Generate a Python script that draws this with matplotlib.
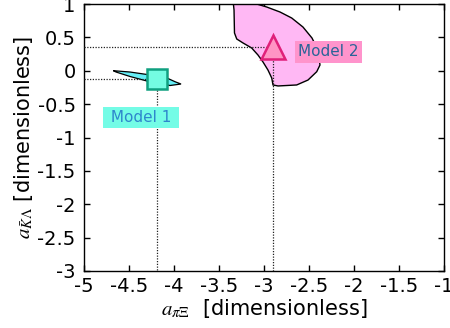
import matplotlib
matplotlib.use("Agg")
import matplotlib.pyplot as plt

plt.rcParams["mathtext.fontset"] = "stix"

# ---- data ----
xticks = [-5, -4.5, -4, -3.5, -3, -2.5, -2, -1.5, -1]
xtick_labels = ["-5", "-4.5", "-4", "-3.5", "-3", "-2.5", "-2", "-1.5", "-1"]
yticks = [1, 0.5, 0, -0.5, -1, -1.5, -2, -2.5, -3]
ytick_labels = ["1", "0.5", "0", "-0.5", "-1", "-1.5", "-2", "-2.5", "-3"]

# Model 1 allowed region (cyan wedge)
m1_region_x = [-4.674, -4.489, -4.30, -4.067, -3.989, -3.922, -4.044, -4.30, -4.489, -4.644]
m1_region_y = [0.001, -0.019, -0.056, -0.116, -0.164, -0.199, -0.221, -0.154, -0.086, -0.019]

# Model 2 allowed region (pink)
m2_region_x = [-3.348, -3.333, -3.328, -3.303, -3.233, -3.137, -3.067, -3.011, -2.956,
               -2.914, -2.900, -2.844, -2.637, -2.511, -2.414, -2.378, -2.400, -2.467,
               -2.567, -2.692, -2.822, -2.970, -3.081, -3.20]
m2_region_y = [1.10, 0.910, 0.566, 0.476, 0.416, 0.341, 0.236, 0.131, 0.011,
               -0.109, -0.213, -0.228, -0.213, -0.139, -0.014, 0.086, 0.311, 0.491,
               0.655, 0.790, 0.880, 0.955, 1.0, 1.10]

# best-fit points
m1_point = (-4.185, -0.125)
m2_point = (-2.897, 0.36)
m1_label_pos = (-4.367, -0.706)
m2_label_pos = (-2.281, 0.281)

xmin, xmax, ymin, ymax = -5, -1, -3, 1

fig = plt.figure(figsize=(4.5, 3.28), dpi=100)
ax = fig.add_axes([84 / 450, 1 - 271 / 328, 360 / 450, 267 / 328])

# regions
ax.fill(m2_region_x, m2_region_y, facecolor="#FFB8F4", edgecolor="black", lw=1.0, zorder=2)
ax.fill(m1_region_x, m1_region_y, facecolor="#66EEF6", edgecolor="black", lw=0.9, zorder=2)

# dotted guide lines
for (px, py) in (m1_point, m2_point):
    ax.plot([xmin, px], [py, py], color="#222222", lw=0.9, ls=(0, (1, 1.2)), zorder=3)
    ax.plot([px, px], [py, ymin], color="#222222", lw=0.9, ls=(0, (1, 1.2)), zorder=3)

# markers
ax.plot([m1_point[0]], [m1_point[1]], marker="s", ms=14, mfc="#74FCE2", mec="#10A080",
        mew=1.8, ls="none", zorder=5)
ax.plot([m2_point[0]], [m2_point[1]], marker="^", ms=17, mfc="#FF94C4", mec="#E0207A",
        mew=1.8, ls="none", zorder=5)

# model labels
ax.text(m1_label_pos[0], m1_label_pos[1], " Model 1 ", fontsize=11, color="#2E86CC",
        ha="center", va="center", zorder=6,
        bbox=dict(boxstyle="square,pad=0.2", fc="#74FCE6", ec="none"))
ax.text(m2_label_pos[0], m2_label_pos[1], "Model 2", fontsize=11, color="#2A6498",
        ha="center", va="center", zorder=6,
        bbox=dict(boxstyle="square,pad=0.2", fc="#FF94CC", ec="none"))

ax.set_xlim(xmin, xmax)
ax.set_ylim(ymin, ymax)
ax.set_xticks(xticks)
ax.set_xticklabels(xtick_labels)
ax.set_yticks(yticks)
ax.set_yticklabels(ytick_labels)
ax.tick_params(direction="in", top=True, right=True, length=4, width=1,
               labelsize=14, pad=4)
ax.tick_params(axis="y", pad=6)
for s in ax.spines.values():
    s.set_linewidth(1.0)

ax.set_xlabel(r"$a_{\pi\Xi}$  [dimensionless]", fontsize=15, labelpad=1)
ax.set_ylabel(r"$a_{\bar{K}\mathit{\Lambda}}$ [dimensionless]", fontsize=15, labelpad=2)

fig.savefig("out.png", dpi=100)
